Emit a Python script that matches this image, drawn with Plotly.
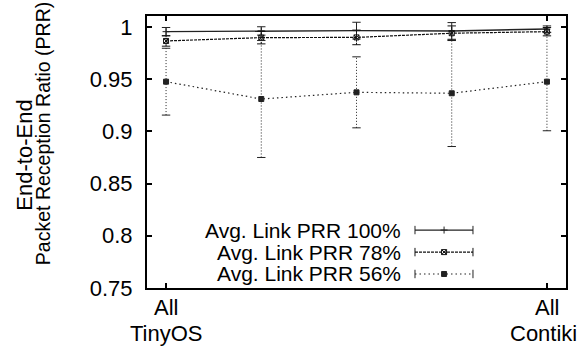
import plotly.graph_objects as go

# ---- data ----
x_pos = [0, 1, 2, 3, 4]
x_tick_vals = [0, 4]
x_label_line1 = ["All", "All"]
x_label_line2 = ["TinyOS", "Contiki"]
y_tick_vals = [0.75, 0.8, 0.85, 0.9, 0.95, 1.0]
y_tick_text = ["0.75", "0.8", "0.85", "0.9", "0.95", "1"]

series_names = ["Avg. Link PRR 100%", "Avg. Link PRR 78%", "Avg. Link PRR 56%"]
prr_100 = [0.9955, 0.9962, 0.9965, 0.9962, 0.998]
err_100 = [0.004, 0.004, 0.008, 0.008, 0.003]
prr_78 = [0.9866, 0.9898, 0.990, 0.994, 0.9955]
err_78 = [0.005, 0.006, 0.007, 0.007, 0.004]
prr_56 = [0.9476, 0.931, 0.9374, 0.9365, 0.9476]
err_56 = [0.032, 0.056, 0.034, 0.051, 0.047]

FONT = "Liberation Sans"
FS = 22
FS_KEY = 21
styles = [
    dict(color="#222222", dash="solid", width=1.4, ebdash="solid", symbol="cross-thin", msize=5),
    dict(color="#111111", dash="3px,1px", width=1.2, ebdash="2px,1px", symbol="square-x-open", msize=5),
    dict(color="#222222", dash="1.5px,3px", width=1.2, ebdash="1px,2px", symbol="square", msize=5),
]

fig = go.Figure()

all_vals = [prr_100, prr_78, prr_56]
all_errs = [err_100, err_78, err_56]

for name, vals, errs, st in zip(series_names, all_vals, all_errs, styles):
    ex, ey = [], []
    for xi, v, e in zip(x_pos, vals, errs):
        ex += [xi, xi, None]
        ey += [v - e, v + e, None]
    fig.add_trace(go.Scatter(
        x=ex, y=ey, mode="lines+markers", showlegend=False, hoverinfo="skip",
        line=dict(color=st["color"], width=1, dash=st["ebdash"]),
        marker=dict(symbol="line-ew", size=6, line=dict(color=st["color"], width=1)),
    ))
    fig.add_trace(go.Scatter(
        x=x_pos, y=vals, mode="lines+markers", name=name, showlegend=False,
        line=dict(color=st["color"], width=st["width"], dash=st["dash"]),
        marker=dict(symbol=st["symbol"], size=st["msize"], color=st["color"],
                    line=dict(color=st["color"], width=1)),
    ))

# ---- gnuplot-style key (text right-aligned, sample to its right) ----
key_rows_y = [0.213, 0.132, 0.0515]
key_x0, key_x1, key_xm = 0.6396, 0.778, 0.709
for name, y, st in zip(series_names, key_rows_y, styles):
    fig.add_trace(go.Scatter(
        x=[key_x0, key_x1], y=[y, y], xaxis="x2", yaxis="y2", mode="lines+markers",
        showlegend=False, hoverinfo="skip",
        line=dict(color=st["color"], width=1.2, dash=st["dash"]),
        marker=dict(symbol="line-ns", size=6, line=dict(color=st["color"], width=1)),
    ))
    fig.add_trace(go.Scatter(
        x=[key_xm], y=[y], xaxis="x2", yaxis="y2", mode="markers",
        showlegend=False, hoverinfo="skip",
        marker=dict(symbol=st["symbol"], size=st["msize"], color=st["color"],
                    line=dict(color=st["color"], width=1)),
    ))
    fig.add_annotation(x=0.6076, y=y, xref="paper", yref="paper", text=name,
                       showarrow=False, xanchor="right", yanchor="middle", borderpad=0,
                       font=dict(family=FONT, size=FS_KEY, color="black"))

# ---- y-axis title (two lines, tight spacing) ----
fig.add_annotation(x=-0.292, y=0.489, xref="paper", yref="paper", textangle=-90,
                   text="End-to-End", showarrow=False, xanchor="center", yanchor="middle",
                   font=dict(family=FONT, size=FS, color="black"))
fig.add_annotation(x=-0.248, y=0.566, xref="paper", yref="paper", textangle=-90,
                   text="Packet Reception Ratio (PRR)", showarrow=False,
                   xanchor="center", yanchor="middle",
                   font=dict(family=FONT, size=19.5, color="black"))

# ---- x tick labels (two lines) ----
for xv, t1 in zip(x_tick_vals, x_label_line1):
    fig.add_annotation(x=xv, y=-0.07, xref="x", yref="paper", text=t1, showarrow=False,
                       xanchor="center", yanchor="middle",
                       font=dict(family=FONT, size=FS, color="black"))
fig.add_annotation(x=x_tick_vals[0], y=-0.221, xref="x", yref="paper", text=x_label_line2[0],
                   showarrow=False, xanchor="center", yanchor="bottom",
                   font=dict(family=FONT, size=FS, color="black"))
fig.add_annotation(x=1.032, y=-0.221, xref="paper", yref="paper", text=x_label_line2[1],
                   showarrow=False, xanchor="right", yanchor="bottom",
                   font=dict(family=FONT, size=FS, color="black"))

axis_common = dict(showline=True, linecolor="black", linewidth=2, mirror="allticks",
                   ticks="inside", tickcolor="black", tickwidth=1.5, ticklen=5,
                   showgrid=False, zeroline=False,
                   tickfont=dict(family=FONT, size=FS, color="black"))

fig.update_layout(
    width=581, height=350,
    margin=dict(l=147, r=15, t=16, b=62),
    paper_bgcolor="white", plot_bgcolor="white",
    showlegend=False,
    xaxis=dict(range=[-0.2, 4.2], tickvals=x_tick_vals, showticklabels=False, **axis_common),
    yaxis=dict(range=[0.75, 1.0105], tickvals=y_tick_vals, ticktext=y_tick_text,
               ticklabelstandoff=8, **axis_common),
    xaxis2=dict(overlaying="x", range=[0, 1], visible=False),
    yaxis2=dict(overlaying="y", range=[0, 1], visible=False),
)

fig.write_html("out.html", config={"displayModeBar": False},
               post_script="document.body.style.margin='0px';")
